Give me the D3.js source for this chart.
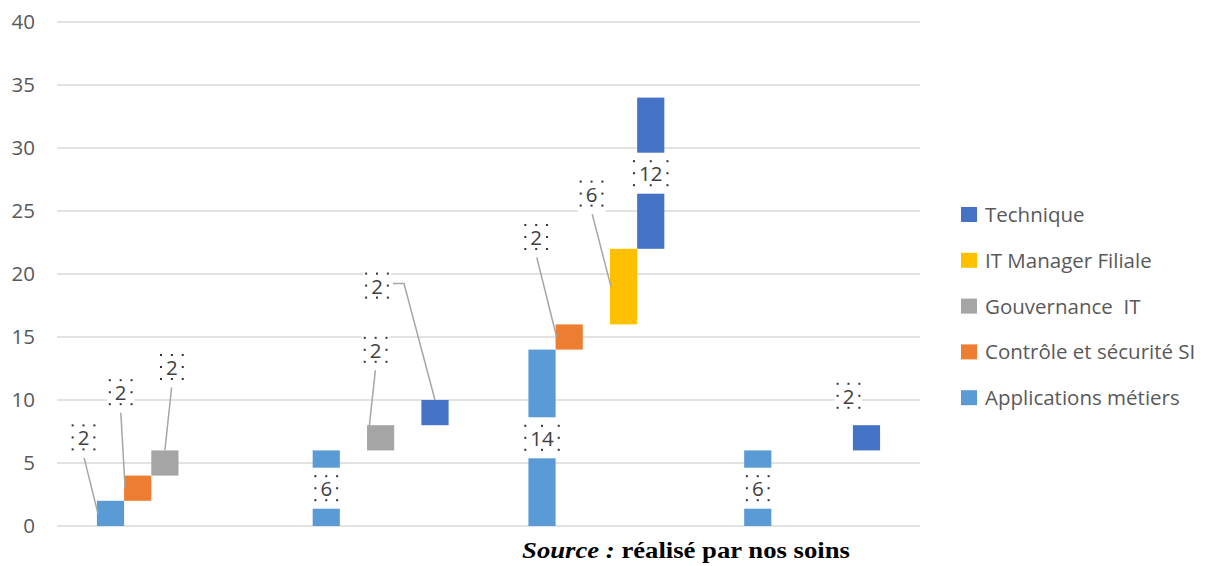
<!DOCTYPE html>
<html>
<head>
<meta charset="utf-8">
<script src="https://cdn.jsdelivr.net/npm/d3@7"></script>
<style>
  html, body { margin: 0; padding: 0; background: #fff; }
  svg { display: block; }
  .ui { font-family: "Open Sans", "Noto Sans", sans-serif; }
  .source { font-family: "Liberation Serif", "Times New Roman", serif; }
</style>
</head>
<body>
<svg id="chart" width="1208" height="566"></svg>
<script>
// Staff counts per group, drawn as floating (cumulative) bars per profile.
const categories = ["Groupe 1", "Groupe 2", "Groupe 3", "Groupe 4"];
const seriesNames = ["Applications métiers", "Contrôle et sécurité SI", "Gouvernance  IT", "IT Manager Filiale", "Technique"];
const applicationsValues = [2, 6, 14, 6];
const controleValues     = [2, null, 2, null];
const gouvernanceValues  = [2, 2, null, null];
const itManagerValues    = [null, null, 6, null];
const techniqueValues    = [null, 2, 12, 2];
const yTicks = [0, 5, 10, 15, 20, 25, 30, 35, 40];

const seriesValues = [applicationsValues, controleValues, gouvernanceValues, itManagerValues, techniqueValues];
const seriesColors = ["#5b9bd5", "#ed7d31", "#a5a5a5", "#ffc000", "#4472c4"];

// Label placement: centred inside the bar, or moved off the bar (pixel offset) with a leader line.
const labelLayout = {
  "0-0": { dx: -27, dy: -76, leader: "left" },
  "1-0": { dx: -17, dy: -96, leader: "left" },
  "2-0": { dx: 7,   dy: -96, leader: "top" },
  "0-1": { inside: true },
  "2-1": { dx: -5,  dy: -88, leader: "left" },
  "4-1": { dx: -58, dy: -127, leader: "top", elbow: true },
  "0-2": { inside: true },
  "1-2": { dx: -33, dy: -100, leader: "left" },
  "3-2": { dx: -32, dy: -93, leader: "left" },
  "4-2": { inside: true },
  "0-3": { inside: true },
  "4-3": { dx: -18, dy: -42, leader: null }
};

const FONT_SIZE = 20.5;
const svg = d3.select("#chart");
const plot = { left: 57, right: 920, top: 22, bottom: 526 };

const x = d3.scaleBand().domain(categories).range([plot.left, plot.right])
  .paddingInner(0.37).paddingOuter(0.185);
const xs = d3.scaleBand().domain(d3.range(seriesNames.length)).range([0, x.bandwidth()]).padding(0);
const y = d3.scaleLinear().domain([0, 40]).range([plot.bottom, plot.top]);

// Gridlines
svg.append("g").selectAll("line").data(yTicks).join("line")
  .attr("x1", plot.left).attr("x2", plot.right)
  .attr("y1", d => y(d)).attr("y2", d => y(d))
  .attr("stroke", "#d9d9d9").attr("stroke-width", 1.5);

// Y axis labels
const yAxis = d3.axisLeft(y).tickValues(yTicks).tickSize(0).tickPadding(0);
const yg = svg.append("g").attr("transform", "translate(35,0)").call(yAxis);
yg.select(".domain").remove();
yg.attr("font-family", null).attr("font-size", null);
yg.selectAll("text").attr("class", "ui")
  .style("font-size", FONT_SIZE + "px").attr("fill", "#595959");

// Build floating bars: each bar starts where the previous one in its group ends
const bars = [];
categories.forEach((cat, c) => {
  let base = 0;
  seriesValues.forEach((vals, s) => {
    const v = vals[c];
    if (v == null) return;
    bars.push({ cat, c, s, v, start: base, end: base + v });
    base += v;
  });
});
bars.forEach(b => {
  b.x0 = x(b.cat) + xs(b.s);
  b.w = xs.bandwidth();
  b.yTop = y(b.end);
  b.yBot = y(b.start);
  b.cx = b.x0 + b.w / 2;
  b.cy = (b.yTop + b.yBot) / 2;
  b.layout = labelLayout[b.s + "-" + b.c] || { inside: true };
});

svg.append("g").selectAll("rect").data(bars).join("rect")
  .attr("x", d => d.x0).attr("y", d => d.yTop)
  .attr("width", d => d.w).attr("height", d => d.yBot - d.yTop)
  .attr("fill", d => seriesColors[d.s]);

// Leader lines
const leaders = svg.append("g");
bars.filter(b => !b.layout.inside && b.layout.leader).forEach(b => {
  const lx = b.cx + b.layout.dx, ly = b.cy + b.layout.dy;
  const end = b.layout.leader === "top" ? [b.cx, b.yTop] : [b.x0 + 1, b.cy];
  let pts;
  if (b.layout.elbow) {
    pts = [[lx + 16, ly - 2], [lx + 27, ly - 2], end];
  } else {
    pts = [[lx, ly + 18], end];
  }
  leaders.append("path").attr("d", d3.line()(pts))
    .attr("fill", "none").attr("stroke", "#a6a6a6").attr("stroke-width", 1.5);
});

// Data labels with white backgrounds and selection handles
const labels = svg.append("g");
bars.forEach(b => {
  const lx = b.layout.inside ? b.cx : b.cx + b.layout.dx;
  const ly = b.layout.inside ? b.cy : b.cy + b.layout.dy;
  const t = labels.append("text").attr("class", "ui").attr("x", lx).attr("y", ly)
    .attr("text-anchor", "middle").attr("dominant-baseline", "central")
    .style("font-size", FONT_SIZE + "px").attr("fill", "#404040").text(b.v);
  const tw = t.node().getComputedTextLength();
  const bw = b.layout.inside ? Math.max(tw + 10, b.w + 2) : tw + 16;
  labels.insert("rect", "text").attr("x", lx - bw / 2).attr("y", ly - 20.5)
    .attr("width", bw).attr("height", 41).attr("fill", "#fff");
  const hw = tw / 2 + 5, hh = 12;
  const handles = [[-hw, -hh], [0, -hh], [hw, -hh], [-hw, 0], [hw, 0], [-hw, hh], [0, hh], [hw, hh]];
  handles.forEach(([hx, hy]) => {
    labels.append("rect").attr("x", lx + hx - 1).attr("y", ly + hy - 1)
      .attr("width", 2).attr("height", 2).attr("fill", "#333");
  });
});

// Legend
const legendItems = seriesNames.map((n, i) => ({ n, i })).reverse();
const lg = svg.append("g").attr("transform", "translate(961,214)");
const li = lg.selectAll("g").data(legendItems).join("g")
  .attr("transform", (d, k) => `translate(0,${k * 45.8})`);
li.append("rect").attr("x", 0).attr("y", -7).attr("width", 16).attr("height", 15)
  .attr("fill", d => seriesColors[d.i]);
li.append("text").attr("class", "ui").attr("x", 24).attr("y", 0).attr("dominant-baseline", "central")
  .style("font-size", FONT_SIZE + "px").attr("fill", "#595959").style("white-space", "pre")
  .text(d => d.n);

// Source line, stretched horizontally to its full line width
const SOURCE_WIDTH = 328, SOURCE_CX = 686, SOURCE_BASELINE = 558;
const srcG = svg.append("g");
const src = srcG.append("text").attr("class", "source").attr("x", 0).attr("y", 0)
  .attr("text-anchor", "middle")
  .style("font-weight", "bold").style("font-size", "22.5px").attr("fill", "#000");
src.append("tspan").style("font-style", "italic").text("Source :");
src.append("tspan").text(" réalisé par nos soins");
const srcLen = src.node().getComputedTextLength();
srcG.attr("transform", `translate(${SOURCE_CX},${SOURCE_BASELINE}) scale(${SOURCE_WIDTH / srcLen},1)`);
</script>
</body>
</html>
